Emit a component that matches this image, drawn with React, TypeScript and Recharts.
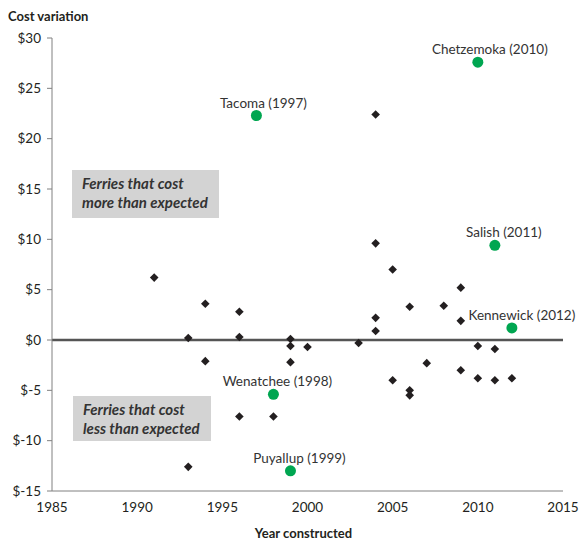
import {
  ScatterChart,
  Scatter,
  XAxis,
  YAxis,
  ReferenceLine,
} from "recharts";

// all ferries in the fleet (year built, cost variation in $M)
const fleetYears = [
  1991, 1993, 1993, 1994, 1994, 1996, 1996, 1996, 1998, 1999, 1999, 1999,
  2000, 2003, 2004, 2004, 2004, 2004, 2005, 2005, 2006, 2006, 2006, 2007,
  2008, 2009, 2009, 2009, 2010, 2010, 2011, 2011, 2012,
];
const fleetCosts = [
  6.2, 0.2, -12.6, 3.6, -2.1, 2.8, 0.3, -7.6, -7.6, 0.1, -0.6, -2.2,
  -0.7, -0.3, 22.4, 9.6, 2.2, 0.9, 7.0, -4.0, 3.3, -5.0, -5.5, -2.3,
  3.4, 5.2, 1.9, -3.0, -0.6, -3.8, -0.9, -4.0, -3.8,
];

// named ferries
const namedFerries = ["Tacoma", "Wenatchee", "Puyallup", "Chetzemoka", "Salish", "Kennewick"];
const namedYears = [1997, 1998, 1999, 2010, 2011, 2012];
const namedCosts = [22.3, -5.4, -13.0, 27.6, 9.4, 1.2];

const xTicks = [1985, 1990, 1995, 2000, 2005, 2010, 2015];
const yTicks = [-15, -10, -5, 0, 5, 10, 15, 20, 25, 30];

const fleet = fleetYears.map((year, i) => ({ year, cost: fleetCosts[i] }));
const named = namedFerries.map((name, i) => ({
  name,
  year: namedYears[i],
  cost: namedCosts[i],
}));

// horizontal nudge of each callout label
const labelDx: Record<string, number> = {
  Tacoma: 7,
  Wenatchee: 4,
  Puyallup: 9,
  Chetzemoka: 12,
  Salish: 9,
  Kennewick: 10,
};

const FONT = "Lato, 'Noto Sans', sans-serif";
const INK = "#231f20";

const Diamond = (props: any) => {
  const { cx, cy } = props;
  const r = 4.3;
  return (
    <polygon
      points={`${cx},${cy - r} ${cx + r},${cy} ${cx},${cy + r} ${cx - r},${cy}`}
      fill={INK}
    />
  );
};

const Callout = (props: any) => {
  const { cx, cy, payload } = props;
  return (
    <g>
      <circle cx={cx} cy={cy} r={5.5} fill="#00a651" />
      <text
        x={cx + (labelDx[payload.name] ?? 0)}
        y={cy - 8}
        textAnchor="middle"
        fontSize={13.5}
        fontFamily={FONT}
        fill="#333"
      >
        {`${payload.name} (${payload.year})`}
      </text>
    </g>
  );
};

const boxStyle: React.CSSProperties = {
  position: "absolute",
  background: "#d3d3d3",
  color: "#333",
  fontFamily: FONT,
  fontWeight: 700,
  fontStyle: "italic",
  fontSize: 15,
  lineHeight: "19px",
  padding: "4px 0 0 10px",
  boxSizing: "border-box",
};

// the page keeps its 8px body margin, so everything sits 8px in
export default function App() {
  return (
    <div style={{ position: "relative", width: 579, height: 534 }}>
      <ScatterChart
        width={579}
        height={534}
        margin={{ top: 30, right: 24, bottom: 21, left: 0 }}
      >
        <XAxis
          type="number"
          dataKey="year"
          domain={[1985, 2015]}
          ticks={xTicks}
          tickLine={false}
          tickSize={0}
          tickMargin={11}
          height={30}
          axisLine={{ stroke: "#808080", strokeWidth: 1 }}
          tick={{ fontSize: 13.5, fontFamily: FONT, fill: INK }}
          label={{
            value: "Year constructed",
            position: "bottom",
            offset: 8,
            dx: -4,
            style: { fontSize: 13, fontWeight: 700, fontFamily: FONT, fill: INK },
          }}
        />
        <YAxis
          type="number"
          dataKey="cost"
          domain={[-15, 30]}
          ticks={yTicks}
          width={44}
          tickSize={5}
          tickMargin={6}
          tickFormatter={(v) => `$${v}`}
          axisLine={{ stroke: "#808080", strokeWidth: 1 }}
          tickLine={{ stroke: "#808080" }}
          tick={{ fontSize: 13.5, fontFamily: FONT, fill: INK }}
        />
        <ReferenceLine y={0} stroke="#555" strokeWidth={2.5} />
        <Scatter data={fleet} shape={<Diamond />} isAnimationActive={false} />
        <Scatter data={named} shape={<Callout />} isAnimationActive={false} />
      </ScatterChart>

      <div
        style={{
          position: "absolute",
          left: 0,
          top: 0,
          fontFamily: FONT,
          fontWeight: 700,
          fontSize: 13,
          color: INK,
        }}
      >
        Cost variation
      </div>

      <div style={{ ...boxStyle, left: 64, top: 162, width: 147, height: 48 }}>
        Ferries that cost
        <br />
        more than expected
      </div>
      <div style={{ ...boxStyle, left: 65, top: 388, width: 138, height: 45 }}>
        Ferries that cost
        <br />
        less than expected
      </div>
    </div>
  );
}
